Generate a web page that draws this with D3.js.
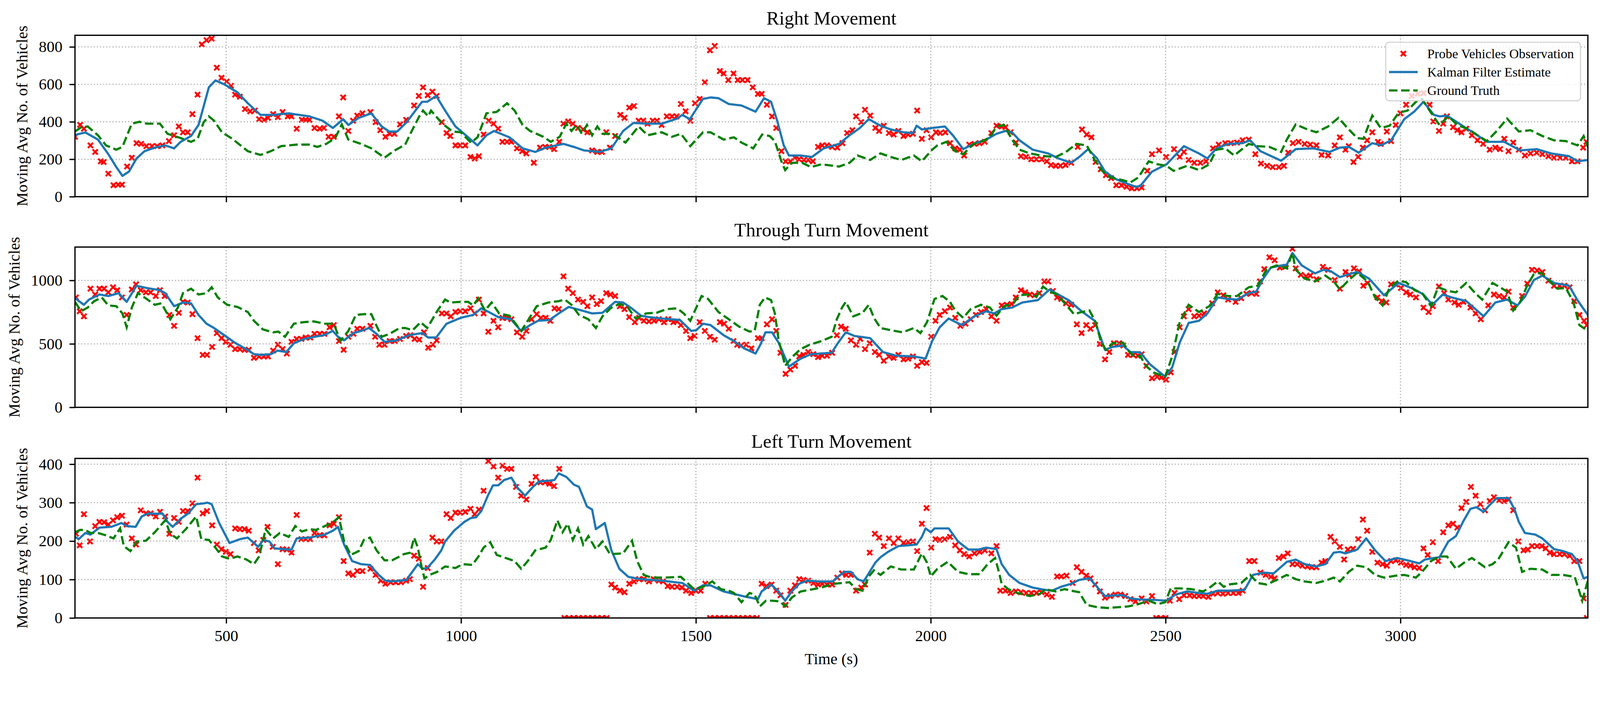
<!DOCTYPE html>
<html>
<head>
<meta charset="utf-8">
<script src="https://cdn.jsdelivr.net/npm/d3@7"></script>
<style>
  html, body { margin: 0; padding: 0; background: #fff; overflow: hidden; }
  svg { display: block; width: 100vw; height: auto; }
</style>
</head>
<body>
<svg id="chart"></svg>
<script>
// ---- data: [time (s), moving avg no. of vehicles] ----
const rightObs = [[178,320],[189,384],[197,363],[211,274],[221,239],[233,189],[239,185],[249,123],[260,61],[270,64],[278,64],[289,161],[299,208],[309,286],[319,282],[330,270],[342,270],[353,270],[364,274],[378,297],[389,328],[399,375],[408,344],[418,344],[428,441],[439,545],[448,813],[458,836],[469,844],[480,689],[490,635],[501,615],[510,592],[519,545],[529,534],[540,468],[551,456],[561,460],[570,414],[581,410],[589,421],[600,441],[610,425],[620,452],[631,429],[639,429],[650,363],[661,410],[669,410],[677,410],[688,367],[699,363],[708,367],[718,320],[729,320],[740,429],[749,530],[760,351],[770,406],[779,433],[790,445],
[807,452],[818,398],[828,355],[839,320],[848,336],[858,336],[870,386],[883,410],[900,487],[910,538],[919,584],[929,542],[939,561],[948,538],[959,398],[969,340],[977,324],[988,274],[998,274],[1009,274],[1020,212],[1029,204],[1038,216],[1048,332],[1059,406],[1069,390],[1079,363],[1088,293],[1098,293],[1107,293],[1119,258],[1130,243],[1139,231],[1155,181],[1168,262],[1179,266],[1188,266],[1198,254],[1209,293],[1218,390],[1228,402],[1238,390],[1249,367],[1260,359],[1269,344],[1279,247],[1290,239],[1300,239],[1309,344],[1317,262],[1328,324],[1339,437],[1348,421],[1358,476],[1368,484],[1378,406],[1388,406],[1397,390],[1408,406],[1417,406],[1427,383],[1438,429],[1449,429],[1459,429],[1468,495],[1478,456],[1488,406],[1498,499],[1508,522],[1519,611],[1530,782],[1540,805],[1551,671],[1559,658],[1569,623],[1580,658],
[1589,623],[1599,623],[1610,623],[1621,584],[1632,549],[1640,549],[1651,491],[1662,429],[1671,367],[1682,243],[1691,189],[1701,189],[1711,208],[1720,200],[1730,196],[1739,196],[1749,189],[1760,266],[1769,274],[1779,274],[1790,266],[1801,262],[1812,286],[1822,340],[1833,355],[1841,429],[1852,398],[1860,464],[1871,433],[1882,367],[1890,351],[1900,379],[1911,340],[1921,332],[1931,351],[1942,324],[1952,332],[1962,336],[1971,460],[1981,309],[1991,355],[2001,317],[2011,344],[2020,340],[2031,344],[2041,286],[2052,258],[2062,251],[2071,220],[2082,278],[2093,282],[2104,286],[2115,293],[2129,340],[2140,379],[2151,375],[2159,371],[2170,344],[2181,289],[2192,216],[2203,212],[2214,200],[2225,200],[2236,200],[2247,189],[2256,169],[2266,165],[2276,165],[2287,169],[2299,181],[2313,266],[2322,359],[2332,332],[2342,317],[2351,185],[2362,146],[2373,115],[2384,99],[2395,61],[2406,61],[2417,53],[2428,45],[2439,45],
[2449,49],[2461,138],[2471,227],[2486,247],[2501,212],[2518,254],[2530,212],[2539,239],[2549,196],[2561,181],[2574,181],[2586,189],[2601,258],[2613,278],[2627,286],[2639,286],[2652,289],[2664,301],[2677,305],[2691,227],[2703,177],[2716,165],[2728,158],[2741,158],[2752,165],[2761,235],[2771,286],[2783,293],[2796,282],[2808,278],[2821,274],[2832,223],[2846,220],[2860,274],[2871,317],[2883,251],[2890,270],[2900,185],[2910,212],[2920,262],[2929,301],[2940,344],[2952,293],[2958,282],[2971,348],[2980,297],[2990,383],[3000,445],[3012,491],[3024,538],[3037,550],[3049,553],[3062,491],[3070,402],[3082,351],[3091,390],[3099,429],[3112,371],[3121,355],[3130,344],[3140,363],[3152,328],[3164,301],[3176,282],[3190,251],[3202,262],[3212,254],[3221,309],[3230,243],[3240,289],[3252,251],[3265,220],[3277,231],[3290,235],[3302,227],[3315,216],[3327,208],[3340,208],[3352,208],[3365,189],[3377,189],[3389,262],[3396,293]];

const rightKalman = [[178,330],[200,343],[227,305],[249,227],[266,158],[279,111],[293,134],[309,204],[326,243],[348,262],[370,274],[389,258],[403,293],[425,324],[441,383],[452,483],[463,584],[477,621],[496,600],[524,557],[546,499],[573,437],[600,437],[633,445],[677,429],[705,406],[727,367],[749,414],[760,383],[782,421],[809,445],[831,375],[847,348],[864,348],[884,398],[917,507],[928,507],[947,538],[966,460],[988,375],[1010,328],[1035,274],[1054,328],[1070,351],[1103,317],[1131,258],[1158,239],[1180,262],[1218,282],[1240,266],[1262,247],[1295,239],[1320,258],[1345,351],[1367,394],[1394,390],[1427,390],[1460,417],[1471,437],[1487,414],[1515,522],[1531,530],[1548,526],[1570,495],[1597,487],[1627,454],[1645,526],[1660,507],[1673,406],[1687,274],[1698,220],[1723,220],[1747,212],[1772,258],[1805,282],[1827,328],[1849,367],[1868,414],[1893,379],[1915,359],[1942,344],[1962,340],[1970,379],[1981,359],[2003,367],[2030,375],[2047,328],[2069,254],[2091,282],[2118,305],[2140,336],[2159,351],[2173,344],[2189,301],[2217,251],[2250,231],[2272,204],[2299,181],[2316,212],[2335,254],[2354,204],[2371,134],[2393,95],[2415,72],[2436,53],[2446,57],[2471,134],[2502,173],[2539,270],[2571,231],[2589,204],[2608,258],[2633,282],[2664,286],[2680,301],[2702,243],[2746,192],[2777,254],[2815,258],[2849,239],[2871,262],[2890,266],[2911,235],[2940,286],[2958,274],[2980,301],[3008,414],[3030,456],[3049,507],[3071,437],[3083,429],[3099,433],[3134,375],[3159,336],[3184,293],[3221,293],[3255,247],[3290,254],[3321,231],[3359,216],[3377,189],[3399,196]];

const rightTruth = [[178,348],[191,371],[205,375],[227,328],[244,274],[266,251],[279,266],[299,390],[315,400],[331,390],[359,390],[375,336],[403,313],[425,293],[439,309],[452,398],[463,429],[474,406],[491,344],[513,309],[546,243],[573,223],[595,243],[617,270],[650,278],[677,278],[694,266],[713,282],[732,313],[746,386],[760,305],[787,282],[809,258],[837,208],[856,243],[881,278],[895,351],[911,429],[919,460],[930,429],[936,460],[960,390],[982,348],[999,344],[1021,289],[1035,317],[1054,445],[1076,453],[1098,499],[1114,460],[1131,383],[1147,351],[1175,320],[1191,293],[1210,320],[1224,390],[1235,351],[1246,383],[1257,336],[1268,383],[1279,328],[1290,375],[1301,336],[1323,336],[1350,289],[1378,375],[1397,328],[1427,344],[1449,320],[1468,336],[1488,270],[1515,344],[1531,344],[1559,305],[1581,317],[1597,289],[1622,258],[1641,332],[1657,324],[1668,297],[1682,189],[1690,142],[1704,181],[1726,181],[1745,158],[1767,173],[1805,161],[1827,181],[1844,220],[1871,196],[1893,231],[1915,212],[1937,196],[1964,220],[1981,189],[2003,251],[2014,274],[2033,293],[2052,243],[2069,227],[2091,282],[2107,293],[2126,317],[2140,375],[2156,383],[2173,305],[2189,251],[2211,231],[2244,216],[2266,212],[2288,239],[2310,282],[2332,274],[2349,196],[2365,138],[2382,103],[2409,88],[2425,76],[2442,103],[2464,189],[2483,173],[2502,165],[2517,138],[2546,165],[2571,142],[2593,173],[2608,251],[2627,258],[2646,220],[2677,282],[2696,270],[2721,266],[2746,239],[2758,305],[2777,386],[2802,359],[2821,344],[2846,375],[2868,421],[2890,359],[2908,313],[2921,309],[2940,433],[2958,367],[2977,379],[2996,448],[3015,460],[3033,507],[3046,522],[3062,460],[3083,383],[3102,429],[3121,383],[3146,359],[3164,328],[3184,297],[3205,351],[3227,417],[3252,348],[3277,355],[3302,324],[3327,301],[3352,297],[3377,274],[3390,324],[3399,266]];

const throughObs = [[180,866],[188,757],[197,717],[211,935],[221,889],[230,935],[240,935],[249,906],[259,946],[268,923],[278,866],[288,728],[299,929],[308,969],[318,923],[329,906],[339,906],[350,877],[359,923],[369,877],[379,728],[389,642],[399,745],[408,831],[418,826],[428,734],[439,545],[450,413],[459,413],[470,476],[480,585],[490,545],[499,516],[509,493],[519,459],[529,459],[539,453],[548,453],[559,390],[570,401],[580,401],[589,401],[600,447],[610,493],[620,459],[629,424],[639,516],[650,539],[660,539],[669,550],[679,550],[688,579],[699,579],[709,579],[720,631],[729,648],[740,522],[750,453],[760,556],[771,579],[779,619],[790,619],
[807,642],[817,556],[826,493],[837,493],[848,522],[859,522],[870,539],[883,562],[892,568],[901,539],[911,533],[921,591],[930,470],[940,493],[948,528],[959,740],[969,740],[978,717],[988,751],[998,757],[1009,757],[1020,780],[1029,740],[1038,849],[1048,740],[1058,596],[1069,682],[1079,631],[1088,705],[1098,705],[1107,694],[1119,591],[1130,556],[1139,602],[1150,694],[1161,734],[1170,705],[1180,705],[1190,682],[1199,780],[1208,774],[1218,1032],[1228,935],[1238,900],[1249,849],[1260,831],[1269,797],[1279,866],[1289,814],[1298,837],[1309,900],[1318,889],[1328,877],[1338,797],[1348,774],[1358,711],[1370,671],[1379,705],[1389,682],[1400,677],[1411,682],[1421,694],[1432,671],[1441,694],[1452,671],[1460,677],[1468,648],[1479,602],[1488,545],[1497,562],[1508,671],[1519,602],[1530,556],[1540,533],[1551,671],[1560,659],[1570,619],[1580,522],
[1588,493],[1596,487],[1607,493],[1618,464],[1632,545],[1640,545],[1651,654],[1662,694],[1671,602],[1680,430],[1691,264],[1701,298],[1711,327],[1720,401],[1729,413],[1739,436],[1750,419],[1760,396],[1769,407],[1779,407],[1790,430],[1800,568],[1809,636],[1819,619],[1830,528],[1841,493],[1850,539],[1860,459],[1870,505],[1881,436],[1890,413],[1900,367],[1911,401],[1921,390],[1931,413],[1942,378],[1952,384],[1962,401],[1971,327],[1981,356],[1991,350],[2001,556],[2010,682],[2019,728],[2030,757],[2041,786],[2052,705],[2063,642],[2074,659],[2085,694],[2096,728],[2107,751],[2118,774],[2129,717],[2140,682],[2151,803],[2162,808],[2172,814],[2181,866],[2192,923],[2201,906],[2211,889],[2221,883],[2231,900],[2242,992],[2250,992],[2260,917],[2269,866],[2278,854],[2288,820],[2299,808],[2311,654],[2321,585],[2331,648],[2340,619],[2350,648],[2360,499],[2371,378],[2380,436],[2390,505],[2401,505],[2410,487],[2420,413],[2431,413],[2441,407],
[2449,419],[2459,327],[2471,229],[2482,241],[2491,235],[2501,218],[2511,275],[2519,436],[2530,631],[2539,717],[2549,774],[2561,717],[2571,722],[2582,740],[2599,820],[2611,906],[2623,883],[2633,849],[2649,831],[2661,860],[2672,894],[2683,900],[2693,894],[2701,992],[2710,1089],[2721,1182],[2732,1159],[2743,1101],[2755,1107],[2770,1250],[2777,1095],[2788,1044],[2799,1032],[2808,1038],[2821,1009],[2835,1107],[2846,1084],[2860,1003],[2871,935],[2883,1066],[2891,1044],[2901,1095],[2912,1072],[2921,958],[2930,980],[2951,866],[2960,837],[2970,826],[2980,969],[2990,969],[3001,940],[3012,906],[3021,889],[3033,866],[3049,786],[3060,751],[3069,797],[3082,952],[3093,900],[3102,849],[3115,826],[3124,808],[3134,831],[3149,786],[3160,740],[3171,694],[3187,803],[3199,889],[3210,877],[3221,866],[3230,912],[3240,786],[3259,877],[3270,975],[3280,1084],[3291,1078],[3302,1066],[3315,998],[3327,958],[3339,958],[3349,958],[3360,946],[3370,837],[3381,728],[3391,682],[3397,648]];

const throughKalman = [[178,860],[197,808],[208,849],[230,889],[249,877],[271,900],[288,831],[309,958],[331,940],[359,923],[370,900],[389,797],[408,826],[425,820],[441,728],[458,659],[474,625],[496,568],[518,510],[540,464],[559,419],[573,413],[595,419],[609,447],[628,436],[644,505],[666,539],[688,556],[708,568],[727,602],[738,556],[751,528],[771,585],[787,602],[804,625],[820,579],[837,516],[860,525],[889,568],[917,585],[930,550],[947,550],[969,659],[999,705],[1026,728],[1043,780],[1059,751],[1079,711],[1106,694],[1128,602],[1147,648],[1164,682],[1188,688],[1208,740],[1229,791],[1257,763],[1279,740],[1301,745],[1328,831],[1345,826],[1361,786],[1383,722],[1400,711],[1427,700],[1466,688],[1490,602],[1501,608],[1515,659],[1531,648],[1559,568],[1581,522],[1603,464],[1627,424],[1638,499],[1648,591],[1662,591],[1676,510],[1698,321],[1723,384],[1745,419],[1789,430],[1802,505],[1819,591],[1838,562],[1871,545],[1898,436],[1926,407],[1964,401],[1989,384],[2003,522],[2019,631],[2038,700],[2066,648],[2093,717],[2118,757],[2135,740],[2151,774],[2173,786],[2195,826],[2228,845],[2253,929],[2266,900],[2294,843],[2321,757],[2349,682],[2360,568],[2371,453],[2387,476],[2409,487],[2425,436],[2446,433],[2467,338],[2499,241],[2514,315],[2530,510],[2549,665],[2571,682],[2589,740],[2611,866],[2633,854],[2652,849],[2677,900],[2693,912],[2708,1015],[2724,1101],[2746,1118],[2758,1124],[2770,1216],[2790,1118],[2818,1055],[2836,1084],[2852,1072],[2871,1026],[2890,1049],[2908,1066],[2933,1015],[2965,883],[2996,980],[3027,935],[3049,889],[3068,808],[3090,889],[3109,866],[3140,837],[3177,717],[3202,826],[3227,849],[3249,803],[3265,872],[3284,1003],[3302,1038],[3327,980],[3359,958],[3377,843],[3399,728]];

const throughTruth = [[178,831],[191,757],[205,786],[219,837],[235,866],[249,803],[266,797],[279,740],[288,631],[299,786],[312,900],[326,866],[348,808],[362,820],[381,694],[397,786],[408,900],[425,935],[441,889],[458,900],[469,946],[482,866],[502,808],[524,791],[546,751],[559,682],[578,614],[600,591],[611,597],[625,556],[644,659],[664,671],[686,677],[710,659],[729,659],[743,522],[760,602],[776,728],[793,734],[809,734],[820,642],[831,556],[848,579],[869,625],[881,625],[897,608],[914,671],[928,625],[950,763],[966,849],[977,826],[999,831],[1015,831],[1026,803],[1037,860],[1051,763],[1065,826],[1081,740],[1103,722],[1128,602],[1144,694],[1161,797],[1186,826],[1208,837],[1221,849],[1235,808],[1251,728],[1271,694],[1287,625],[1301,717],[1320,786],[1337,814],[1353,797],[1372,700],[1394,740],[1416,745],[1438,774],[1460,780],[1474,740],[1488,682],[1498,763],[1512,877],[1526,854],[1548,751],[1570,694],[1592,636],[1614,597],[1625,602],[1636,808],[1647,866],[1660,845],[1668,740],[1676,533],[1690,327],[1706,401],[1723,459],[1742,493],[1767,522],[1789,556],[1800,694],[1811,786],[1819,831],[1835,717],[1855,745],[1868,808],[1879,705],[1893,625],[1915,608],[1940,591],[1964,625],[1978,585],[1992,671],[2008,854],[2025,877],[2041,831],[2052,763],[2069,705],[2085,774],[2107,808],[2126,786],[2140,722],[2156,797],[2176,820],[2189,883],[2206,889],[2225,872],[2239,952],[2253,912],[2269,889],[2288,808],[2305,734],[2321,751],[2338,763],[2351,671],[2362,522],[2373,453],[2387,505],[2409,510],[2423,436],[2434,396],[2446,405],[2458,327],[2474,275],[2499,241],[2514,401],[2530,671],[2549,808],[2571,751],[2593,797],[2611,894],[2633,877],[2652,877],[2677,946],[2696,958],[2715,1089],[2736,1118],[2758,1095],[2770,1216],[2777,1084],[2796,1015],[2818,992],[2840,1038],[2858,992],[2871,929],[2890,1003],[2908,1061],[2930,992],[2946,866],[2962,803],[2977,946],[2996,998],[3012,986],[3030,923],[3046,900],[3065,797],[3080,946],[3102,917],[3118,906],[3140,980],[3159,900],[3174,849],[3196,980],[3212,946],[3227,912],[3240,763],[3255,831],[3271,969],[3284,1049],[3299,1061],[3318,992],[3334,935],[3352,940],[3368,831],[3381,648],[3399,602]];

const leftObs = [[180,219],[188,189],[197,270],[210,199],[221,239],[230,250],[240,249],[249,243],[259,254],[268,262],[278,266],[288,243],[299,207],[308,191],[318,280],[329,272],[339,272],[350,264],[359,276],[370,264],[379,219],[389,260],[399,250],[408,278],[418,278],[428,298],[439,365],[450,272],[459,278],[470,241],[480,191],[490,179],[499,172],[509,166],[519,233],[529,231],[539,231],[548,227],[559,195],[569,176],[579,203],[588,237],[599,185],[610,140],[620,179],[629,178],[639,170],[650,268],[660,205],[669,205],[679,205],[688,221],[699,215],[709,215],[720,241],[729,245],[740,262],[750,148],[760,116],[770,112],[779,122],[790,122],
[807,128],[818,112],[829,97],[839,89],[850,93],[861,93],[872,93],[883,97],[891,101],[900,162],[910,154],[919,81],[929,130],[939,209],[948,199],[958,199],[969,270],[978,260],[988,274],[998,274],[1009,276],[1020,284],[1029,270],[1038,282],[1048,331],[1058,408],[1069,394],[1079,365],[1088,396],[1098,388],[1107,388],[1117,341],[1128,318],[1139,308],[1150,349],[1159,367],[1169,353],[1179,353],[1188,349],[1198,343],[1209,388],[1220,0],[1230,0],[1240,0],[1250,0],[1260,0],[1270,0],[1280,0],[1290,0],[1300,0],[1310,0],[1320,87],[1328,79],[1338,71],[1348,67],[1358,89],[1368,95],[1379,101],[1389,101],[1400,95],[1410,101],[1421,97],[1430,95],[1440,83],[1449,81],[1460,81],[1470,79],[1479,71],[1490,65],[1500,71],[1510,71],[1520,89],[1530,0],[1540,0],[1550,0],[1560,0],[1570,0],[1580,0],[1590,0],[1600,0],[1610,0],[1620,0],[1630,0],[1640,89],[1650,83],[1661,87],[1671,71],[1680,59],[1691,34],[1701,71],[1711,85],[1720,101],[1729,99],[1739,97],[1750,91],[1760,87],[1769,89],[1779,87],[1790,87],[1801,105],[1811,116],[1820,112],[1830,112],[1841,71],[1852,79],[1860,87],[1870,170],[1881,219],[1890,209],[1900,187],[1911,207],[1921,195],[1931,207],[1942,195],[1952,197],[1962,199],[1971,174],[1981,245],[1991,286],[2001,183],[2010,205],[2019,203],[2030,205],[2041,211],[2052,189],[2062,176],[2071,166],[2082,160],[2093,168],[2104,172],[2115,176],[2129,168],[2140,187],[2148,71],[2159,71],[2170,65],[2181,69],[2192,67],[2203,65],[2214,65],[2225,65],[2236,67],[2247,61],[2258,55],[2269,108],[2278,108],[2289,110],[2302,91],[2311,132],[2321,120],[2331,110],[2340,103],[2350,87],[2360,69],[2371,53],[2382,57],[2393,61],[2404,61],[2414,57],[2425,49],[2436,43],
[2449,51],[2459,43],[2471,57],[2480,0],[2490,0],[2500,0],[2509,45],[2519,65],[2529,49],[2539,59],[2551,59],[2561,57],[2571,57],[2580,57],[2591,55],[2601,63],[2611,65],[2622,63],[2633,65],[2644,65],[2655,65],[2664,71],[2678,148],[2689,148],[2702,118],[2713,112],[2724,107],[2732,103],[2741,156],[2751,160],[2760,168],[2770,140],[2780,140],[2791,136],[2802,134],[2811,132],[2821,132],[2832,144],[2840,148],[2851,211],[2860,199],[2871,185],[2880,152],[2888,178],[2899,180],[2910,205],[2920,256],[2929,227],[2940,172],[2951,144],[2962,140],[2971,136],[2980,148],[2990,150],[3001,144],[3012,138],[3021,136],[3030,132],[3040,130],[3049,181],[3058,164],[3069,197],[3080,148],[3091,223],[3102,241],[3112,245],[3121,235],[3130,286],[3140,302],[3150,341],[3160,318],[3170,296],[3180,280],[3190,304],[3199,314],[3210,306],[3221,304],[3230,308],[3240,280],[3251,199],[3262,176],[3271,178],[3280,187],[3291,187],[3301,187],[3309,181],[3318,170],[3327,166],[3339,166],[3349,166],[3360,162],[3370,148],[3381,148],[3390,51],[3397,0]];

const leftKalman = [[178,211],[186,205],[200,221],[211,217],[230,235],[255,237],[277,247],[288,239],[307,237],[320,264],[334,272],[353,271],[364,272],[375,250],[386,237],[403,258],[419,272],[436,296],[452,298],[460,300],[469,296],[485,247],[507,195],[529,205],[546,209],[557,197],[568,185],[579,203],[592,199],[603,181],[622,179],[639,178],[650,207],[677,209],[710,217],[727,227],[738,237],[751,191],[768,148],[787,140],[806,138],[823,114],[839,97],[853,95],[884,99],[889,108],[908,140],[918,128],[928,130],[944,152],[958,176],[966,199],[985,227],[1007,250],[1021,260],[1032,262],[1043,278],[1057,318],[1068,345],[1079,345],[1092,359],[1107,365],[1120,339],[1136,318],[1153,341],[1166,355],[1186,357],[1199,359],[1208,376],[1224,367],[1240,347],[1251,341],[1268,290],[1279,282],[1287,231],[1306,247],[1320,176],[1337,128],[1356,107],[1383,101],[1427,97],[1471,91],[1496,71],[1515,85],[1531,85],[1559,69],[1586,61],[1607,55],[1632,49],[1640,69],[1660,87],[1676,69],[1690,45],[1704,69],[1720,89],[1736,97],[1761,95],[1791,95],[1802,107],[1816,120],[1830,120],[1844,101],[1857,95],[1868,116],[1882,144],[1893,158],[1909,172],[1931,187],[1953,189],[1970,191],[1981,211],[1989,233],[2000,223],[2008,233],[2038,233],[2058,199],[2080,178],[2102,178],[2118,183],[2140,179],[2151,140],[2167,112],[2189,91],[2217,79],[2244,73],[2258,71],[2277,81],[2299,89],[2316,99],[2338,103],[2354,81],[2371,57],[2393,59],[2409,59],[2425,51],[2446,48],[2477,47],[2502,45],[2521,61],[2546,69],[2571,65],[2589,63],[2611,71],[2633,71],[2668,73],[2686,112],[2708,118],[2730,116],[2758,146],[2777,152],[2796,140],[2821,134],[2840,140],[2858,170],[2871,172],[2883,168],[2908,178],[2927,207],[2946,176],[2968,148],[2993,156],[3015,150],[3040,142],[3052,152],[3071,156],[3083,158],[3102,199],[3118,213],[3134,252],[3149,284],[3162,288],[3177,276],[3190,294],[3205,312],[3230,312],[3243,282],[3252,250],[3265,221],[3287,217],[3302,207],[3327,179],[3346,174],[3365,166],[3377,148],[3390,103],[3399,107]];

const leftTruth = [[178,223],[189,229],[200,229],[211,221],[227,221],[244,215],[260,207],[274,233],[282,187],[296,174],[309,199],[329,201],[348,223],[370,254],[381,219],[395,207],[414,231],[436,264],[447,205],[463,203],[477,183],[491,160],[507,154],[524,160],[543,152],[559,140],[570,160],[584,231],[600,207],[614,221],[633,211],[647,239],[661,225],[677,231],[691,229],[710,239],[727,249],[740,262],[751,199],[765,164],[782,174],[793,203],[806,209],[820,176],[837,150],[853,150],[869,160],[878,166],[892,170],[900,209],[908,183],[914,144],[922,103],[933,112],[949,120],[966,134],[988,130],[1004,140],[1024,138],[1037,160],[1048,183],[1062,197],[1076,164],[1100,154],[1114,148],[1128,128],[1142,148],[1158,176],[1180,183],[1191,203],[1205,254],[1216,223],[1227,245],[1238,203],[1249,233],[1260,191],[1271,213],[1287,179],[1301,199],[1317,166],[1345,168],[1364,201],[1375,148],[1389,112],[1405,105],[1433,105],[1468,107],[1482,91],[1496,75],[1515,81],[1535,95],[1553,75],[1570,71],[1581,65],[1597,41],[1614,65],[1625,61],[1636,30],[1649,45],[1662,45],[1679,43],[1690,30],[1704,53],[1723,69],[1750,75],[1772,81],[1794,89],[1811,91],[1827,93],[1841,75],[1855,71],[1868,108],[1879,124],[1893,112],[1915,134],[1937,126],[1964,126],[1973,148],[1981,168],[1992,144],[2000,108],[2014,128],[2036,146],[2058,120],[2080,114],[2104,114],[2121,140],[2137,156],[2145,120],[2151,89],[2165,75],[2184,65],[2211,57],[2233,63],[2244,75],[2266,69],[2285,75],[2299,71],[2316,67],[2332,34],[2354,28],[2376,26],[2398,28],[2420,30],[2442,36],[2464,45],[2483,36],[2499,41],[2511,77],[2530,77],[2555,75],[2580,69],[2596,81],[2611,95],[2624,81],[2633,87],[2661,91],[2680,112],[2696,91],[2715,87],[2740,101],[2758,112],[2777,101],[2796,95],[2821,91],[2840,97],[2858,105],[2871,95],[2890,120],[2908,136],[2927,132],[2946,112],[2965,105],[2990,110],[3008,112],[3033,105],[3046,120],[3065,148],[3083,160],[3099,160],[3118,128],[3140,148],[3152,156],[3180,132],[3196,140],[3208,152],[3230,197],[3246,183],[3259,120],[3277,128],[3302,126],[3321,112],[3346,112],[3371,107],[3387,45],[3399,97]];

const timeTicks = [500, 1000, 1500, 2000, 2500, 3000];
const rightTicks = [0, 200, 400, 600, 800];
const throughTicks = [0, 500, 1000];
const leftTicks = [0, 100, 200, 300, 400];
const panelTitles = ["Right Movement", "Through Turn Movement", "Left Turn Movement"];
const seriesNames = ["Probe Vehicles Observation", "Kalman Filter Estimate", "Ground Truth"];

// ---- layout ----
const W = 4353, H = 1848;
const FONT = '"Liberation Serif", "Times New Roman", Times, serif';
const RED = "#ff0000", BLUE = "#1f77b4", GREEN = "#008000";
const LW = 6, MARK = 7, MARK_W = 5.2;

// drawn in a fixed 4353x1848 coordinate system, scaled to the window width
const svg = d3.select("#chart")
  .attr("viewBox", `0 0 ${W} ${H}`)
  .attr("preserveAspectRatio", "xMinYMin meet");
svg.append("rect").attr("width", W).attr("height", H).attr("fill", "#fff");

const x = d3.scaleLinear().domain([178, 3399]).range([204, 4320]);

const panels = [
  {title: panelTitles[0], obs: rightObs, kf: rightKalman, gt: rightTruth, yMax: 862, yTicks: rightTicks, top: 96, bottom: 535, legend: true},
  {title: panelTitles[1], obs: throughObs, kf: throughKalman, gt: throughTruth, yMax: 1263, yTicks: throughTicks, top: 672, bottom: 1108},
  {title: panelTitles[2], obs: leftObs, kf: leftKalman, gt: leftTruth, yMax: 415, yTicks: leftTicks, top: 1247, bottom: 1681, xLabels: true}
];

const crossPath = r => `M${-r},${-r}L${r},${r}M${-r},${r}L${r},${-r}`;

panels.forEach((p, i) => {
  const y = d3.scaleLinear().domain([0, p.yMax]).range([p.bottom, p.top]);
  const [x0, x1] = x.range();
  const g = svg.append("g");

  svg.append("clipPath").attr("id", "clip" + i)
    .append("rect").attr("x", x0).attr("y", p.top)
    .attr("width", x1 - x0).attr("height", p.bottom - p.top);

  const plot = g.append("g").attr("clip-path", `url(#clip${i})`);

  // probe observations (under the grid, like matplotlib collections)
  plot.append("g").selectAll("path").data(p.obs).join("path")
    .attr("transform", d => `translate(${x(d[0])},${y(d[1])})`)
    .attr("d", crossPath(MARK))
    .attr("fill", "none")
    .attr("stroke", RED)
    .attr("stroke-width", MARK_W);

  // grid
  const grid = plot.append("g")
    .attr("stroke", "#b0b0b0").attr("stroke-width", 3).attr("stroke-dasharray", "3,5.5");
  grid.selectAll("line.v").data(timeTicks).join("line").attr("class", "v")
    .attr("x1", d => x(d)).attr("x2", d => x(d)).attr("y1", p.top).attr("y2", p.bottom);
  grid.selectAll("line.h").data(p.yTicks).join("line").attr("class", "h")
    .attr("x1", x0).attr("x2", x1).attr("y1", d => y(d)).attr("y2", d => y(d));

  const line = d3.line().x(d => x(d[0])).y(d => y(d[1]));
  plot.append("path").datum(p.kf).attr("d", line)
    .attr("fill", "none").attr("stroke", BLUE).attr("stroke-width", LW)
    .attr("stroke-linejoin", "round").attr("stroke-linecap", "square");
  plot.append("path").datum(p.gt).attr("d", line)
    .attr("fill", "none").attr("stroke", GREEN).attr("stroke-width", LW)
    .attr("stroke-dasharray", "23,10");

  // frame
  g.append("rect").attr("x", x0).attr("y", p.top)
    .attr("width", x1 - x0).attr("height", p.bottom - p.top)
    .attr("fill", "none").attr("stroke", "#000").attr("stroke-width", 3.5);

  // axes
  const xAxis = d3.axisBottom(x).tickValues(timeTicks).tickSize(15).tickPadding(17)
    .tickFormat(p.xLabels ? d3.format("d") : () => "");
  const gx = g.append("g").attr("transform", `translate(0,${p.bottom})`).call(xAxis);
  const yAxis = d3.axisLeft(y).tickValues(p.yTicks).tickSize(15).tickPadding(19).tickFormat(d3.format("d"));
  const gy = g.append("g").attr("transform", `translate(${x0},0)`).call(yAxis);
  [gx, gy].forEach(a => {
    a.select(".domain").remove();
    a.selectAll(".tick line").attr("stroke", "#000").attr("stroke-width", 3.5);
    a.selectAll(".tick text").attr("fill", "#000")
      .style("font-family", FONT).style("font-size", "43px");
  });

  // y label, left of the tick labels
  const bb = gy.node().getBBox();
  g.append("text")
    .attr("transform", `translate(${x0 + bb.x - 31},${(p.top + p.bottom) / 2}) rotate(-90)`)
    .attr("text-anchor", "middle")
    .style("font-family", FONT).style("font-size", "43px")
    .text("Moving Avg No. of Vehicles");

  // title
  g.append("text")
    .attr("x", (x0 + x1) / 2).attr("y", p.top - 29)
    .attr("text-anchor", "middle")
    .style("font-family", FONT).style("font-size", "52px")
    .text(p.title);

  if (p.legend) {
    const lx = 3770, ly = 115, lw = 530, lh = 159;
    const lg = g.append("g");
    lg.append("rect").attr("x", lx).attr("y", ly).attr("width", lw).attr("height", lh)
      .attr("rx", 9).attr("fill", "#fff").attr("fill-opacity", 0.8)
      .attr("stroke", "#cccccc").attr("stroke-opacity", 0.8).attr("stroke-width", 3.3);
    seriesNames.forEach((name, k) => {
      const yc = ly + 31 + k * 50;
      const hx0 = lx + 9, hx1 = lx + 87;
      if (k === 0) {
        lg.append("path").attr("transform", `translate(${(hx0 + hx1) / 2},${yc})`)
          .attr("d", crossPath(MARK)).attr("stroke", RED).attr("stroke-width", MARK_W);
      } else {
        lg.append("line").attr("x1", hx0).attr("x2", hx1).attr("y1", yc).attr("y2", yc)
          .attr("stroke", k === 1 ? BLUE : GREEN).attr("stroke-width", LW)
          .attr("stroke-dasharray", k === 2 ? "23,10" : null);
      }
      lg.append("text").attr("x", lx + 113).attr("y", yc + 12)
        .style("font-family", FONT).style("font-size", "36px")
        .text(name);
    });
  }
});

svg.append("text")
  .attr("x", (x.range()[0] + x.range()[1]) / 2).attr("y", 1807)
  .attr("text-anchor", "middle")
  .style("font-family", FONT).style("font-size", "43px")
  .text("Time (s)");
</script>
</body>
</html>
